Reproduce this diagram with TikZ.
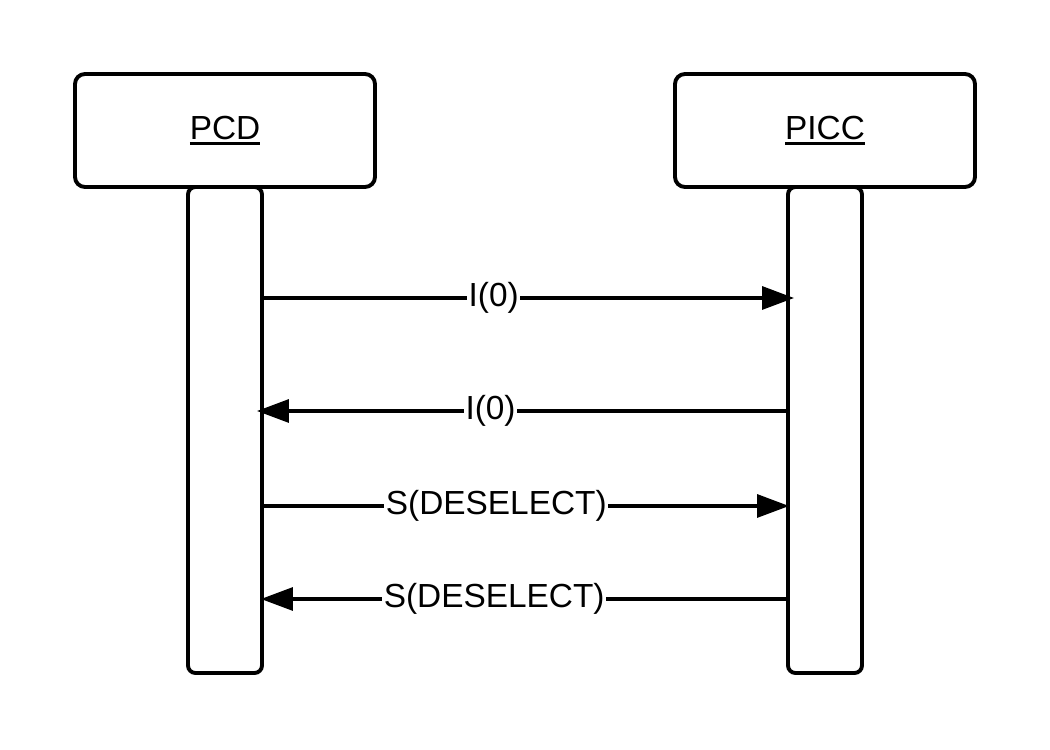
\documentclass[tikz,border=0pt]{standalone}
\usepackage{fontspec}
\setmainfont{Liberation Sans}
\usetikzlibrary{positioning,arrows.meta}

\newcommand{\ulname}[1]{\setbox0\hbox{#1}\rlap{\rule[-3.2pt]{\wd0}{1.6pt}}\box0}

\tikzset{
	lifebox/.style={draw, line width=2.2pt, rounded corners=0.2cm, minimum width=6cm, minimum height=2.26cm, font=\fontsize{19}{23}\selectfont},
	lifebar/.style={draw, line width=2.2pt, rounded corners=0.15cm, minimum width=1.48cm, minimum height=9.72cm, below=-2.2pt of #1},
	msg/.style={line width=1.8pt, -{Triangle[length=0.64cm,width=0.46cm]}, shorten >=-0.06cm},
	msglabel/.style={fill=white, inner xsep=1pt, inner ysep=0pt, font=\fontsize{19}{23}\selectfont},
}

\begin{document}
\begin{tikzpicture}
			%%%%% START %%%%%
			\useasboundingbox (0, 0) rectangle (21, 15);
			
			\node[lifebox] (pcd) at (4.5, 12.39) {\ulname{PCD}};
			\node[lifebox] (picc) at (16.5, 12.39) {\ulname{PICC}};
			
			\node[lifebar=pcd] (pcdbar) {};
			\node[lifebar=picc] (piccbar) {};
			
			\draw[msg, shorten >=-0.16cm] (pcdbar.east |- 0, 9.04) -- node[msglabel, pos=0.44] {I(0)} (piccbar.west |- 0, 9.04);
			\draw[msg, shorten >=-0.14cm] (piccbar.west |- 0, 6.78) -- node[msglabel, pos=0.566] {I(0)} (pcdbar.east |- 0, 6.78);
			\draw[msg] (pcdbar.east |- 0, 4.88) -- node[msglabel, pos=0.445] {S(DESELECT)} (piccbar.west |- 0, 4.88);
			\draw[msg] (piccbar.west |- 0, 3.02) -- node[msglabel, pos=0.559] {S(DESELECT)} (pcdbar.east |- 0, 3.02);
			
			%%%%% END %%%%%
\end{tikzpicture}
\end{document}
